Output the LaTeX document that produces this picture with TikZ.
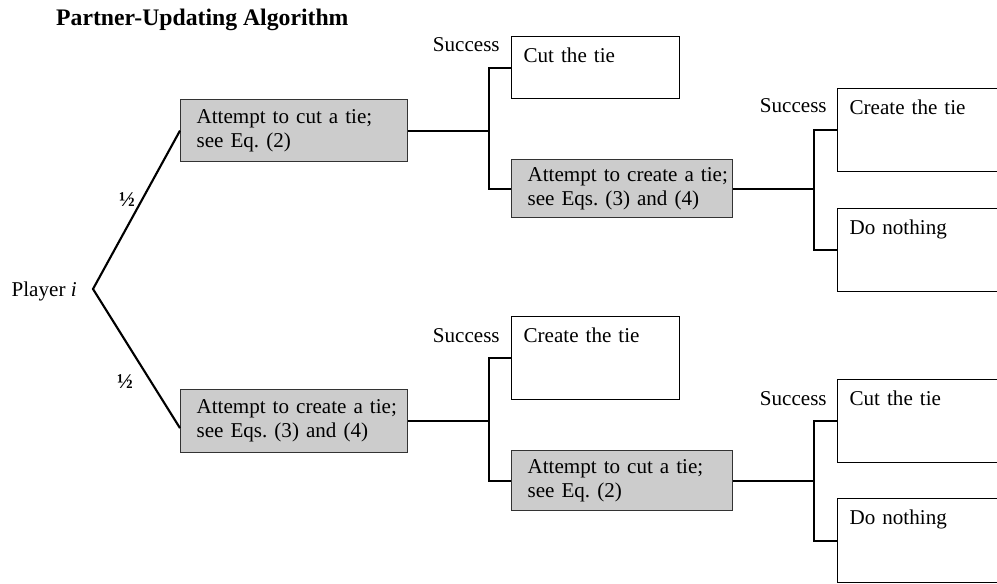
\documentclass[tikz,border=0pt]{standalone}
\usepackage{fontspec}
\setmainfont{Liberation Serif}
\usepackage{tikz}
\tikzstyle{attempt} = [draw=black!80, line width=0.7pt, fill=gray!40, anchor=north west,
    align=left, inner xsep=0.32cm, inner ysep=0pt]
\tikzstyle{outcome} = [draw, line width=0.7pt, fill=white, anchor=north west,
    align=left, inner xsep=0.24cm, inner ysep=0pt, text height=0.52cm]
\tikzstyle{lbl} = [anchor=base east, inner sep=0pt]
\tikzstyle{branch} = [line width=1.2pt]

\begin{document}
\frenchspacing
\begin{tikzpicture}[x=0.02cm, y=-0.02cm, font=\fontsize{12}{13.6}\selectfont]
  \useasboundingbox (0,0) rectangle (997,583);
  \clip (0,0) rectangle (997,583);
  \node [anchor=base west, font=\bfseries\fontsize{13.5}{16}\selectfont] (ttl) at (50,25) {Partner-Updating Algorithm};
  % player
  \node [lbl] (pl) at (77,296) {Player \textit{i}};
  \coordinate (v) at (93,289);
  \node [attempt, text width=3.9cm, minimum height=1.24cm] (a1) at (180,99) {\mbox{Attempt to cut a tie;}\\\mbox{see Eq. (2)}};
  \node [attempt, text width=3.9cm, minimum height=1.26cm] (a3) at (180,389) {\mbox{Attempt to create a tie;}\\\mbox{see Eqs. (3) and (4)}};
  \node [font=\fontsize{12}{13.6}\selectfont\bfseries] (h1) at (127,200) {½};
  \node [font=\fontsize{12}{13.6}\selectfont\bfseries] (h2) at (125,382) {½};
  \draw [branch] (a1.west) -- (v) -- ([yshift=-0.14cm]a3.west);
  % upper branch
  \node [outcome, text width=2.88cm, text depth=0.72cm] (w1) at (511,36) {Cut the tie};
  \node [attempt, text width=3.78cm, minimum height=1.16cm] (a2) at (511,159) {\mbox{Attempt to create a tie;}\\\mbox{see Eqs. (3) and (4)}};
  \node [outcome, text width=3.52cm, text depth=1.14cm] (w2) at (837,88) {Create the tie};
  \node [outcome, text width=3.52cm, text depth=1.14cm] (w3) at (837,208) {Do nothing};
  \node [lbl] (s1) at (500,51) {Success};
  \node [lbl] (s2) at (827,112) {Success};
  \draw [branch] (a1.east) -- ++(82,0);
  \draw [branch] (w1.west) -- ++(-22,0) |- (a2.west);
  \draw [branch] (a2.east) -- ++(82,0);
  \draw [branch] (w2.west) -- ++(-23,0) |- (w3.west);
  % lower branch
  \node [outcome, text width=2.88cm, text depth=1.14cm] (w4) at (511,316) {Create the tie};
  \node [attempt, text width=3.78cm, minimum height=1.2cm] (a4) at (511,450) {\mbox{Attempt to cut a tie;}\\\mbox{see Eq. (2)}};
  \node [outcome, text width=3.52cm, text depth=1.14cm] (w5) at (837,379) {Cut the tie};
  \node [outcome, text width=3.52cm, text depth=1.16cm] (w6) at (837,498) {Do nothing};
  \node [lbl] (s3) at (500,342) {Success};
  \node [lbl] (s4) at (827,405) {Success};
  \draw [branch] (a3.east) -- ++(82,0);
  \draw [branch] (w4.west) -- ++(-22,0) |- (a4.west);
  \draw [branch] (a4.east) -- ++(82,0);
  \draw [branch] (w5.west) -- ++(-23,0) |- (w6.west);
\end{tikzpicture}
\end{document}
